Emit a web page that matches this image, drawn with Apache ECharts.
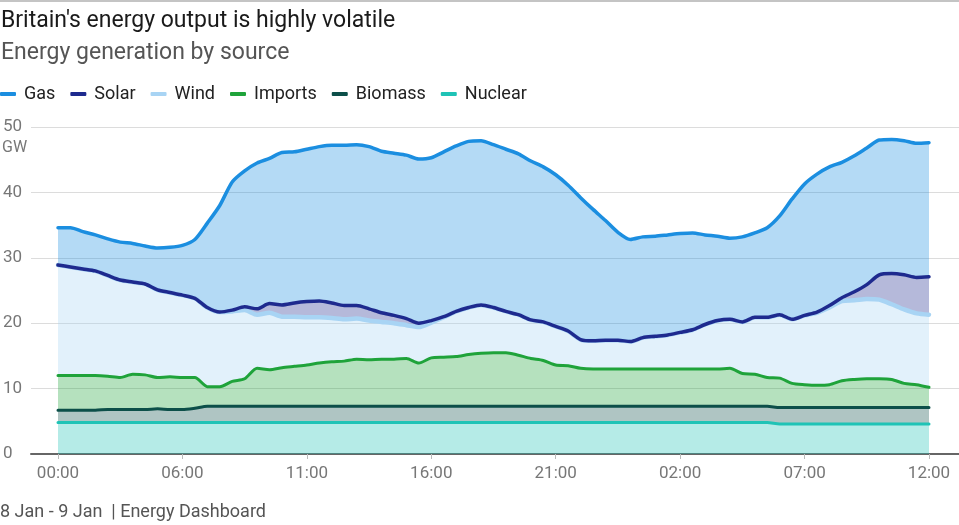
<!DOCTYPE html>
<html>
<head>
<meta charset="utf-8">
<script src="https://cdn.jsdelivr.net/npm/echarts@6/dist/echarts.min.js"></script>
<style>
html,body{margin:0;padding:0;background:#fff;}
#chart{width:959px;height:525px;}
</style>
</head>
<body>
<div id="chart"></div>
<script>
// Time categories (half-hourly samples), tick labels shown every 10th point
const times = ["00:00","01:30","02:00","02:30","03:00","03:30","04:00","04:30","05:00","05:30",
  "06:00","06:30","07:00","07:30","08:00","08:30","09:00","09:30","10:00","10:30",
  "11:00","11:30","12:00","12:30","13:00","13:30","14:00","14:30","15:00","15:30",
  "16:00","16:30","17:00","17:30","18:00","18:30","19:00","19:30","20:00","20:30",
  "21:00","21:30","22:00","22:30","23:00","23:30","00:00","00:30","01:00","01:30",
  "02:00","02:30","03:00","03:30","04:00","04:30","05:00","05:30","06:00","06:30",
  "07:00","07:30","08:00","08:30","09:00","09:30","10:00","10:30","11:00","11:30","12:00"];

// Generation by source, GW
const nuclear = [4.8,4.8,4.8,4.8,4.8,4.8,4.8,4.8,4.8,4.8,4.8,4.8,4.8,4.8,4.8,4.8,4.8,4.8,4.8,4.8,
  4.8,4.8,4.8,4.8,4.8,4.8,4.8,4.8,4.8,4.8,4.8,4.8,4.8,4.8,4.8,4.8,4.8,4.8,4.8,4.8,
  4.8,4.8,4.8,4.8,4.8,4.8,4.8,4.8,4.8,4.8,4.8,4.8,4.8,4.8,4.8,4.8,4.8,4.8,4.6,4.6,
  4.6,4.6,4.6,4.6,4.6,4.6,4.6,4.6,4.6,4.6,4.6];
const biomass = [1.9,1.9,1.9,1.9,2.0,2.0,2.0,2.0,2.1,2.0,2.0,2.2,2.5,2.5,2.5,2.5,2.5,2.5,2.5,2.5,
  2.5,2.5,2.5,2.5,2.5,2.5,2.5,2.5,2.5,2.5,2.5,2.5,2.5,2.5,2.5,2.5,2.5,2.5,2.5,2.5,
  2.5,2.5,2.5,2.5,2.5,2.5,2.5,2.5,2.5,2.5,2.5,2.5,2.5,2.5,2.5,2.5,2.5,2.5,2.5,2.5,
  2.5,2.5,2.5,2.5,2.5,2.5,2.5,2.5,2.5,2.5,2.5];
const imports = [5.3,5.3,5.3,5.3,5.1,4.9,5.4,5.3,4.8,5.0,4.9,4.7,3.0,3.0,3.8,4.2,5.8,5.6,5.9,6.1,
  6.3,6.6,6.8,6.9,7.2,7.1,7.2,7.2,7.3,6.6,7.4,7.5,7.6,7.9,8.1,8.2,8.2,7.8,7.3,7.0,
  6.3,6.2,5.8,5.7,5.7,5.7,5.7,5.7,5.7,5.7,5.7,5.7,5.7,5.7,5.8,5.0,4.9,4.4,4.5,3.7,
  3.5,3.4,3.5,4.1,4.3,4.4,4.4,4.3,3.7,3.5,3.1];
const wind = [16.9,16.6,16.3,16.0,15.4,14.9,14.1,13.9,13.4,12.9,12.6,12.1,12.1,11.4,10.7,10.5,8.2,8.7,7.8,7.6,
  7.3,7.0,6.7,6.4,6.2,6.0,5.7,5.5,5.1,5.5,5.4,6.1,6.9,7.2,7.4,6.9,6.3,6.2,5.9,5.9,
  5.9,5.3,4.4,4.3,4.4,4.4,4.2,4.8,5.0,5.2,5.6,6.0,6.8,7.4,7.5,7.9,8.7,9.2,9.7,9.8,
  10.6,11.1,11.8,12.2,12.1,12.2,12.1,11.5,11.3,10.9,11.1];
const solar = [0,0,0,0,0,0,0,0,0,0,0,0,0,0,0.2,0.5,0.9,1.4,1.8,2.1,
  2.4,2.5,2.3,2.1,2.0,1.8,1.4,1.2,1.0,0.6,0.3,0.1,0,0,0,0,0,0,0,0,
  0,0,0,0,0,0,0,0,0,0,0,0,0,0,0,0,0,0,0,0,
  0,0.1,0.3,0.5,1.3,2.2,3.8,4.7,5.3,5.5,5.8];
const gas = [5.7,6.0,5.7,5.5,5.6,5.8,5.9,5.8,6.4,6.9,7.6,9.0,12.9,16.3,19.6,20.8,22.3,22.2,23.3,23.1,
  23.3,23.6,24.1,24.5,24.6,24.8,24.7,24.8,25.0,25.1,24.9,25.2,25.3,25.4,25.1,24.9,24.8,24.6,24.3,23.7,
  23.2,22.3,21.7,20.1,18.3,16.5,15.6,15.4,15.3,15.3,15.1,14.8,13.7,12.9,12.4,13.0,12.9,13.7,15.1,18.4,
  20.1,21.1,21.2,20.7,20.8,20.9,20.6,20.5,20.5,20.5,20.5];

const colors = {
  Gas: '#1b8ee0', Solar: '#1e2a8e', Wind: '#a8d4f4',
  Imports: '#1fa33a', Biomass: '#0c4f49', Nuclear: '#1fc3b6'
};
const FONT = 'Roboto, "Noto Sans", sans-serif';

function mk(name, arr, lw) {
  return {
    name: name, type: 'line', stack: 'total',
    xAxisIndex: 1, yAxisIndex: 1,
    data: arr,
    showSymbol: false, symbol: 'none', smooth: 0.25,
    lineStyle: { color: colors[name], width: lw, cap: 'round', join: 'round' },
    itemStyle: { color: colors[name] },
    areaStyle: { color: colors[name], opacity: 0.33 },
    emphasis: { disabled: true }
  };
}

const chart = echarts.init(document.getElementById('chart'), null, { renderer: 'canvas' });
chart.setOption({
  animation: false,
  backgroundColor: '#fff',
  textStyle: { fontFamily: FONT },
  title: [
    { text: "Britain's energy output is highly volatile", left: 1, top: 10, padding: 0,
      textStyle: { fontFamily: FONT, fontSize: 23, fontWeight: 'normal', color: '#1a1a1a' } },
    { text: 'Energy generation by source', left: 1, top: 42, padding: 0,
      textStyle: { fontFamily: FONT, fontSize: 23, fontWeight: 'normal', color: '#555' } }
  ],
  legend: {
    left: 0, top: 85, padding: 0,
    data: ['Gas', 'Solar', 'Wind', 'Imports', 'Biomass', 'Nuclear'],
    icon: 'roundRect', itemWidth: 16, itemHeight: 4, itemGap: 15,
    textStyle: { fontFamily: FONT, fontSize: 18, color: '#222', padding: [0, 0, 0, 3] }
  },
  graphic: [
    { type: 'rect', left: 0, top: 0, shape: { width: 959, height: 2 }, style: { fill: '#c4c4c4' } },
    { type: 'text', left: 2, top: 140, style: { text: 'GW', font: '16px ' + FONT, fill: '#777' } },
    { type: 'text', left: 0, top: 503, style: { text: '8 Jan - 9 Jan  | Energy Dashboard', font: '18px ' + FONT, fill: '#555' } }
  ],
  grid: [
    { left: 30, right: 0, top: 127, bottom: 71, containLabel: false },
    { left: 58, right: 30, top: 127, bottom: 71, containLabel: false }
  ],
  xAxis: [
    { gridIndex: 0, type: 'value', min: 0, max: 1,
      axisLine: { show: true, lineStyle: { color: '#666', width: 2 } },
      axisTick: { show: false }, axisLabel: { show: false }, splitLine: { show: false } },
    { gridIndex: 1, type: 'category', data: times, boundaryGap: false,
      axisLine: { show: false },
      axisTick: { show: true, interval: 9, length: 5, lineStyle: { color: '#bbb' } },
      axisLabel: { interval: 9, color: '#777', fontSize: 17, fontFamily: FONT, margin: 11 },
      splitLine: { show: false } }
  ],
  yAxis: [
    { gridIndex: 0, type: 'value', min: 0, max: 50, interval: 10,
      axisLine: { show: false }, axisTick: { show: false },
      axisLabel: { align: 'left', margin: 28, color: '#777', fontSize: 17, fontFamily: FONT },
      splitLine: { show: true, lineStyle: { color: '#dcdcdc', width: 1 } } },
    { gridIndex: 1, type: 'value', min: 0, max: 50, interval: 10,
      axisLine: { show: false }, axisTick: { show: false }, axisLabel: { show: false },
      splitLine: { show: false } }
  ],
  series: [
    mk('Nuclear', nuclear, 3),
    mk('Biomass', biomass, 3),
    mk('Imports', imports, 3),
    mk('Wind', wind, 4.5),
    mk('Solar', solar, 3.5),
    mk('Gas', gas, 3.5)
  ]
});
</script>
</body>
</html>
